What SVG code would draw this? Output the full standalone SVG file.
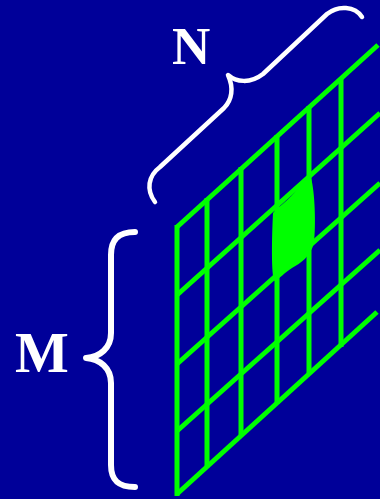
<svg xmlns="http://www.w3.org/2000/svg" width="380" height="499" viewBox="0 0 380 499">
<style>
.g{stroke:#00ff00;stroke-width:5;fill:none;stroke-linecap:butt}
.br{stroke:#ffffff;fill:none;stroke-linecap:round;stroke-linejoin:round}
.lbl{font-family:"Liberation Serif","Times New Roman",serif;font-weight:bold;fill:#ffffff}
</style>
<rect x="0" y="0" width="380" height="499" fill="#000099"/>
<g id="grid">
<g id="verticals">
<line class="g" x1="177" y1="225" x2="177" y2="496"/>
<line class="g" x1="207" y1="198" x2="207" y2="466"/>
<line class="g" x1="241" y1="167" x2="241" y2="435"/>
<line class="g" x1="277" y1="135" x2="277" y2="404"/>
<line class="g" x1="309" y1="106" x2="309" y2="373"/>
<line class="g" x1="341" y1="78" x2="341" y2="347"/>
</g>
<g id="diagonals">
<line class="g" x1="177" y1="227" x2="378" y2="45"/>
<line class="g" x1="177" y1="295" x2="380" y2="113"/>
<line class="g" x1="177" y1="364" x2="380" y2="183"/>
<line class="g" x1="177" y1="431" x2="380" y2="250"/>
<line class="g" x1="177" y1="494" x2="377" y2="312"/>
</g>
<path id="cell" fill="#00ff00" d="M273,213 C280,205 295,196 300,184 Q305,176 311,178 C315,192 316,225 314,243 C310,257 301,263 292,268 C285,272 280,279 274,281 C271,270 272,232 273,213 Z"/>
</g>
<g id="braces">
<path id="braceN" class="br" stroke-width="4.5" d="M155,202 C146,190 148,176 160,167 L224,108 C232,100 234,88 228,75 C236,82 250,84 263,74 L327,14 C338,5 355,6 362,17"/>
<path id="braceM" class="br" stroke-width="6" d="M135,232 C118,232 111,240 111,255 L111,333 C111,348 100,357 86,358 C100,359 111,368 111,383 L111,465 C111,480 118,487 135,487"/>
</g>
<g id="labels">
<text class="lbl" x="172" y="64" font-size="53">N</text>
<text class="lbl" x="15" y="372" font-size="57">M</text>
</g>
</svg>
